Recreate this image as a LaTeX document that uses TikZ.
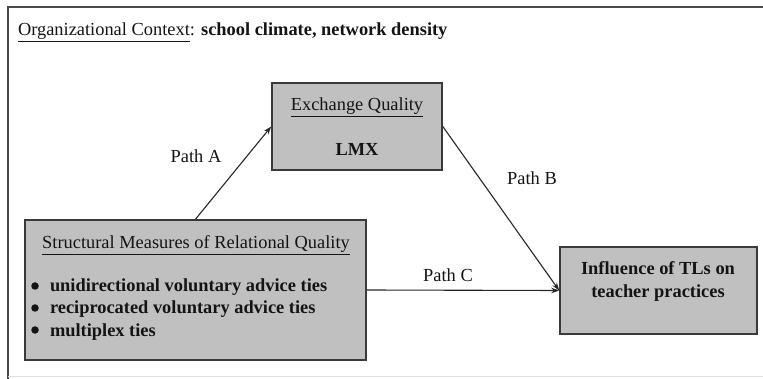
\documentclass[tikz,border=0pt]{standalone}
\usepackage{fontspec}
\setmainfont{Liberation Serif}
\usetikzlibrary{arrows.meta}

\definecolor{boxfill}{HTML}{C0C0C0}
\definecolor{boxline}{HTML}{3A3A3A}
\definecolor{frameline}{HTML}{4A4A4A}

\tikzset{
  every node/.style={font=\fontsize{18.4}{21}\selectfont, text=black!92},
  txt/.style={inner sep=0pt, outer sep=0pt},
  card/.style={draw=boxline, line width=1.6pt, fill=boxfill, inner sep=0pt},
  dot/.style={circle, fill=black!92, inner sep=0pt, minimum size=7.5pt},
  link/.style={draw=black!85, line width=1.1pt, -{Stealth[length=8pt,width=5.5pt]}},
}

\begin{document}
\begin{tikzpicture}[x=1pt, y=-1pt]
  \useasboundingbox (0,0) rectangle (763,379);

  % outer frame
  \draw[frameline, line width=1.6pt] (8,379) -- (8,7) -- (763,7);
  \draw[black!12, line width=0.8pt] (8,376) -- (763,376);

  % heading
  \node[txt, anchor=base west] (ctx) at (18,35.5)
    {\underline{Organizational Context}: \textbf{school climate, network density}};

  % boxes
  \node[card, minimum width=170pt, minimum height=87pt] (exch) at (357,126.5) {};
  \node[card, minimum width=341pt, minimum height=140pt] (struct) at (195.5,290) {};
  \node[card, minimum width=197pt, minimum height=87pt] (infl) at (658.5,290.5) {};

  % exchange quality
  \node[txt, anchor=base] (exchT) at (357,111) {\underline{Exchange Quality}};
  \node[txt, anchor=base] (lmx) at (357,156) {\textbf{LMX}};

  % structural measures
  \node[txt, anchor=base] (structT) at (196,249) {\underline{Structural Measures of Relational Quality}};
  \node[dot] (b1) at (35,286) {};
  \node[dot] (b2) at (35,308) {};
  \node[dot] (b3) at (35,330) {};
  \node[txt, anchor=base west] (t1) at (50,292) {\textbf{unidirectional voluntary advice ties}};
  \node[txt, anchor=base west] (t2) at (50,314) {\textbf{reciprocated voluntary advice ties}};
  \node[txt, anchor=base west] (t3) at (50,336) {\textbf{multiplex ties}};

  % outcome
  \node[txt, anchor=base] (inflA) at (658,275) {\textbf{Influence of TLs on}};
  \node[txt, anchor=base] (inflB) at (658,297.5) {\textbf{teacher practices}};

  % paths
  \draw[link] (struct.north) -- (exch.west);
  \draw[link] (exch.east) -- (infl.west);
  \draw[link] (struct.east) -- (infl.west);

  \node[txt, anchor=base] (pa) at (196,163) {Path A};
  \node[txt, anchor=base] (pb) at (532,185) {Path B};
  \node[txt, anchor=base] (pc) at (448,282) {Path C};
\end{tikzpicture}
\end{document}
